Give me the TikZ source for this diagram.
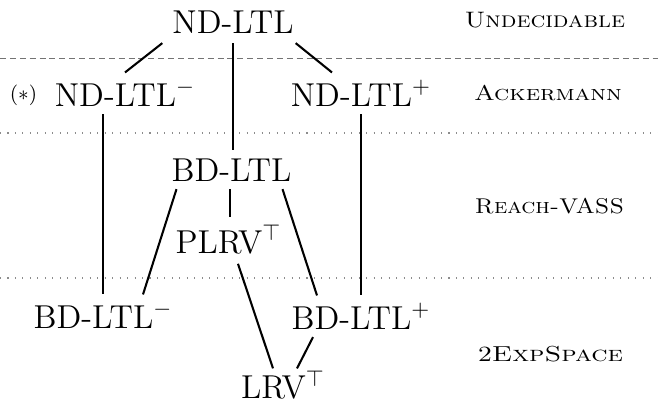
\documentclass[tikz,border=0pt]{standalone}
\usepackage{graphicx}
\usetikzlibrary{calc}
\begin{document}
\begin{tikzpicture}[x=0.4348pt, y=-0.4348pt,
  lang/.style={font=\Large, anchor=base, inner sep=3.33pt},
  cls/.style={font=\normalsize, anchor=base, inner sep=0pt},
  edge/.style={line width=0.9pt},
  sepdash/.style={draw=black!55, line width=0.4pt, dash pattern=on 2.6pt off 1.7pt},
  sepdot/.style={draw=black!45, line width=0.45pt, dash pattern=on 0.45pt off 2.8pt}]
\useasboundingbox (0,0) rectangle (658,400);

% separators
\coordinate (l1a) at (0,58);   \coordinate (l1b) at (658,58);
\coordinate (l2a) at (0,133);  \coordinate (l2b) at (658,133);
\coordinate (l3a) at (0,278);  \coordinate (l3b) at (658,278);
\draw[sepdash] (l1a) -- (l1b);
\draw[sepdot] (l2a) -- (l2b);
\draw[sepdot] (l3a) -- (l3b);

% class labels
\node[cls] (undec) at (545,27.7) {\resizebox{69.6pt}{6.65pt}{\textsc{Undecidable}}};
\node[cls] (ack) at (548,100.5) {\resizebox{64.3pt}{6.65pt}{\textsc{Ackermann}}};
\node[cls] (reach) at (549.5,213.3) {\resizebox{64.8pt}{6.65pt}{\textsc{Reach-VASS}}};
\node[cls] (exps) at (550.5,361.7) {\resizebox{63.0pt}{6.65pt}{2\textsc{ExpSpace}}};

% logics
\node[lang] (nd) at (233,33) {ND-LTL};
\node[lang] (ndm) at (125,106) {ND-LTL$^{-}$};
\node[lang] (ndp) at (361,106) {ND-LTL$^{+}$};
\node[font=\small, inner sep=0pt] (star) at (23.5,95.5) {$(*)$};
\node[lang] (bd) at (231.5,181) {BD-LTL};
\node[lang] (plrv) at (228.5,253) {PLRV$^{\top}$};
\node[lang] (bdm) at (103,328) {BD-LTL$^{-}$};
\node[lang] (bdp) at (361,329) {BD-LTL$^{+}$};
\node[lang] (lrv) at (283,398.5) {LRV$^{\top}$};

% connectors
\draw[edge] ($(nd.south west)+(-2,2)$) -- (ndm.north);
\draw[edge] ($(nd.south east)+(-6,2)$) -- ($(ndp.north)+(-29,0)$);
\draw[edge] ($(nd.south)+(0,2)$) -- (nd.south |- bd.north);
\draw[edge] (ndm.south -| bdm.north) -- (bdm.north);
\draw[edge] (ndp.south) -- (bdp.north);
\draw[edge] ($(bd.south west)+(13,0)$) -- ($(bdm.north)+(40,0)$);
\draw[edge] ($(bd.south)+(-1.5,0)$) -- ($(bd.south |- plrv.north)+(-1.5,0)$);
\draw[edge] ($(bd.south east)+(-17,0)$) -- ($(bdp.north)+(-44,0)$);
\draw[edge] ($(plrv.south)+(9.5,2)$) -- ($(lrv.north)+(-10,6)$);
\draw[edge] ($(bdp.south)+(-48,0)$) -- ($(lrv.north)+(14,6)$);
\end{tikzpicture}
\end{document}
